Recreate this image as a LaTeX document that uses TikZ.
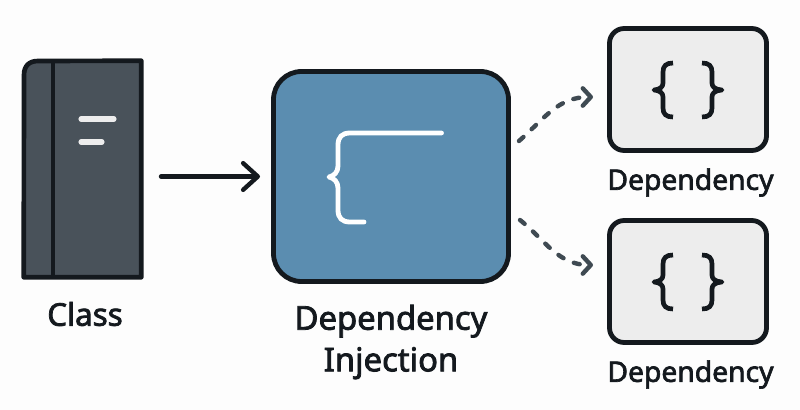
\documentclass[tikz,border=0pt]{standalone}
\usepackage{fontspec}
\setmainfont{Noto Sans}[FakeBold=2.4]
\usetikzlibrary{arrows.meta}
\definecolor{ink}{HTML}{14191E}
\definecolor{slate}{HTML}{49525A}
\definecolor{steel}{HTML}{5B8DB0}
\definecolor{paper}{HTML}{EDEDED}
\definecolor{dashc}{HTML}{3F4A52}
\tikzset{
  x=.75pt,y=-.75pt,
  classbox/.style={inner sep=0pt,minimum width=117*.75pt,minimum height=216*.75pt},
  injbox/.style={draw=ink,fill=steel,line width=3.6pt,rounded corners=21pt,inner sep=0pt,minimum width=235*.75pt,minimum height=210*.75pt},
  depbox/.style={draw=ink,fill=paper,line width=3.6pt,rounded corners=11pt,inner sep=0pt,minimum width=157*.75pt,minimum height=122*.75pt},
  lab/.style={text=ink,inner sep=0pt,font=\fontsize{21.2pt}{24pt}\selectfont,align=center},
  classlabel/.style={text=ink,inner sep=0pt,font=\fontsize{23.5pt}{26pt}\selectfont},
  biglab/.style={text=ink,inner sep=0pt,font=\fontsize{24.6pt}{30pt}\selectfont,align=center},
  bar/.style={draw=white!93!black,line width=3.8pt,line cap=round},
  ibrace/.style={draw=white,line width=3.6pt,line cap=round,line join=round},
  dbrace/.style={draw=ink,line width=3.5pt,line join=round},
  solidarrow/.style={draw=ink,line width=3.3pt,line cap=round,-{Straight Barb[length=11pt,width=20pt,line width=3.3pt,round]}},
  dasharrow/.style={draw=dashc,line width=3.3pt,line cap=round,dash pattern=on 4.5pt off 8.5pt,-{Straight Barb[length=6pt,width=13pt,line width=3.3pt,round]}}
}
\begin{document}
\begin{tikzpicture}
\useasboundingbox[fill=white!99.3!black] (0,0) rectangle (800,410);
% Class
\node[classbox] (class) at (82.5,169) {};
\draw[draw=ink,fill=slate,line width=3.5pt,line join=round]
  (class.south west) -- (24,75) .. controls (24,66) and (29,61) .. (38,61) -- (class.north east) -- (class.south east) -- cycle;
\draw[draw=ink,line width=3.6pt] (53,61) -- (53,277);
\draw[bar] (81,119) -- (114,119);
\draw[bar] (81,142) -- (102,142);
\node[classlabel] (classlab) at (85,314) {Class};
% Injection
\node[injbox] (inj) at (391,176.5) {};
\draw[ibrace] (441.5,133) -- (350,133) .. controls (342,133) and (338,137) .. (338,145) -- (338,166)
  .. controls (338,172) and (334,176) .. (329,177) .. controls (334,178) and (338,182) .. (338,188) -- (338,210)
  .. controls (338,218) and (342,222) .. (350,222) -- (364,222);
\node[biglab] (injlab) at (391,342) {Dependency\\[1.2pt]Injection};
% Dependencies
\node[depbox] (dep1) at (688,89.5) {};
\node[depbox] (dep2) at (688,281.5) {};
\foreach \n/\dy in {1/0,2/192}{
  \draw[dbrace,shift={(0,\dy)}] (673,63) .. controls (666,63) and (663,66) .. (663,72) -- (663,83)
    .. controls (663,87) and (660,89.5) .. (654,90) .. controls (660,90.5) and (663,93) .. (663,97) -- (663,108)
    .. controls (663,114) and (666,117) .. (673,117);
  \draw[dbrace,shift={(0,\dy)}] (702,63) .. controls (709,63) and (712,66) .. (712,72) -- (712,83)
    .. controls (712,87) and (715,89.5) .. (722,90) .. controls (715,90.5) and (712,93) .. (712,97) -- (712,108)
    .. controls (712,114) and (709,117) .. (702,117);
}
\node[lab] (dep1lab) at (690.5,182.5) {Dependency};
\node[lab] (dep2lab) at (690.5,374.5) {Dependency};
% Connectors
\coordinate (arrstart) at (161,176.5);
\draw[solidarrow] (arrstart) -- (inj.west -| 260,0);
\coordinate (out1) at (519,141);
\coordinate (in1) at (593,97);
\coordinate (out2) at (520,220);
\coordinate (in2) at (593,265);
\draw[dasharrow] (out1) .. controls (545,118) and (558,97) .. (in1);
\draw[dasharrow] (out2) .. controls (545,240) and (558,265) .. (in2);
\end{tikzpicture}
\end{document}
